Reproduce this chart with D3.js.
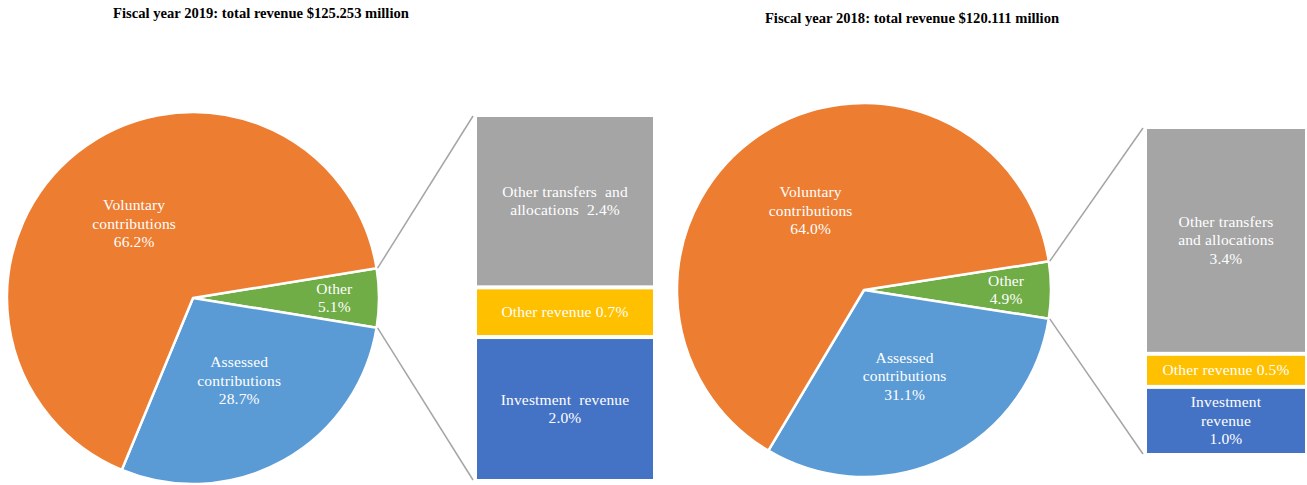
<!DOCTYPE html>
<html>
<head>
<meta charset="utf-8">
<script src="https://cdn.jsdelivr.net/npm/d3@7"></script>
<style>
  html, body { margin: 0; padding: 0; background: #fff; }
  svg { display: block; }
</style>
</head>
<body>
<svg id="chart" width="1307" height="485"></svg>
<script>
// ---------- data ----------
const titles = [
  "Fiscal year 2019: total revenue $125.253 million",
  "Fiscal year 2018: total revenue $120.111 million"
];
const pieCategories = ["Voluntary contributions", "Assessed contributions", "Other"];
const pieValues2019 = [66.2, 28.7, 5.1];
const pieValues2018 = [64.0, 31.1, 4.9];
const pieLabels2019 = [["Voluntary", "contributions", "66.2%"], ["Assessed", "contributions", "28.7%"], ["Other", "5.1%"]];
const pieLabels2018 = [["Voluntary", "contributions", "64.0%"], ["Assessed", "contributions", "31.1%"], ["Other", "4.9%"]];

const barCategories = ["Other transfers and allocations", "Other revenue", "Investment revenue"];
const barValues2019 = [2.4, 0.7, 2.0];
const barValues2018 = [3.4, 0.5, 1.0];
const barLabels2019 = [["Other transfers  and", "allocations  2.4%"], ["Other revenue 0.7%"], ["Investment  revenue", "2.0%"]];
const barLabels2018 = [["Other transfers", "and allocations", "3.4%"], ["Other revenue 0.5%"], ["Investment", "revenue", "1.0%"]];

// ---------- style ----------
const pieColors = ["#ED7D31", "#5B9BD5", "#70AD47"];
const barColors = ["#A5A5A5", "#FFC000", "#4472C4"];
const FONT = "'Liberation Serif', 'Times New Roman', serif";

const layouts = [
  { cx: 193, cy: 298, R: 186, barX: 477, barW: 176, barTop: 117, barBottom: 479, titleX: 261, titleY: 18 },
  { cx: 864, cy: 290, R: 187, barX: 1147, barW: 158, barTop: 129, barBottom: 453, titleX: 912, titleY: 23 }
];

const charts = [
  { title: titles[0], pie: pieValues2019, pieLabels: pieLabels2019, bar: barValues2019, barLabels: barLabels2019 },
  { title: titles[1], pie: pieValues2018, pieLabels: pieLabels2018, bar: barValues2018, barLabels: barLabels2018 }
];

const svg = d3.select("#chart");

function multiline(sel, lines, x, cy, lh) {
  const n = lines.length;
  const t = sel.append("text")
    .attr("text-anchor", "middle")
    .attr("font-family", FONT)
    .attr("font-size", 15.5)
    .attr("letter-spacing", 0.15)
    .attr("fill", "#fff");
  lines.forEach((ln, i) => {
    t.append("tspan")
      .attr("x", x)
      .attr("y", cy + (i - (n - 1) / 2) * lh + 5)
      .style("white-space", "pre")
      .text(ln);
  });
}

charts.forEach((c, ci) => {
  const L = layouts[ci];
  const g = svg.append("g");

  // title
  g.append("text")
    .attr("x", L.titleX).attr("y", L.titleY)
    .attr("text-anchor", "middle")
    .attr("font-family", FONT)
    .attr("font-weight", "bold")
    .attr("font-size", 14.6)
    .attr("fill", "#000")
    .text(c.title);

  // pie: order Other, Assessed, Voluntary clockwise, Other centred on the right
  const order = [2, 1, 0];
  const otherFrac = c.pie[2] / d3.sum(c.pie);
  const start = Math.PI / 2 - otherFrac * Math.PI;
  const pie = d3.pie().sort(null).value(d => d.v)
    .startAngle(start).endAngle(start + 2 * Math.PI);
  const arcsData = pie(order.map(i => ({ i, v: c.pie[i] })));
  const arc = d3.arc().innerRadius(0).outerRadius(L.R);

  const pg = g.append("g").attr("transform", `translate(${L.cx},${L.cy})`);
  pg.selectAll("path").data(arcsData).join("path")
    .attr("d", arc)
    .attr("fill", d => pieColors[d.data.i])
    .attr("stroke", "#fff")
    .attr("stroke-width", 2.5)
    .attr("stroke-linejoin", "round");

  arcsData.forEach(d => {
    const mid = (d.startAngle + d.endAngle) / 2;
    const small = (d.endAngle - d.startAngle) < 0.6;
    const r = L.R * (small ? 0.76 : 0.51);
    const x = Math.sin(mid) * r;
    const y = -Math.cos(mid) * r;
    multiline(pg, c.pieLabels[d.data.i], x, y, 18.5);
  });

  // connector lines from Other slice edges to bar
  const other = arcsData[0];
  const p1 = [L.cx + Math.sin(other.startAngle) * (L.R + 1), L.cy - Math.cos(other.startAngle) * (L.R + 1)];
  const p2 = [L.cx + Math.sin(other.endAngle) * (L.R + 1), L.cy - Math.cos(other.endAngle) * (L.R + 1)];
  g.append("line").attr("x1", p1[0]).attr("y1", p1[1]).attr("x2", L.barX - 4).attr("y2", L.barTop - 1)
    .attr("stroke", "#A5A5A5").attr("stroke-width", 1.5);
  g.append("line").attr("x1", p2[0]).attr("y1", p2[1]).attr("x2", L.barX - 4).attr("y2", L.barBottom + 1)
    .attr("stroke", "#A5A5A5").attr("stroke-width", 1.5);

  // bar of pie
  const total = d3.sum(c.bar);
  const y = d3.scaleLinear().domain([0, total]).range([L.barTop, L.barBottom]);
  let cum = 0;
  const gap = 2;
  c.bar.forEach((v, i) => {
    const y0 = y(cum) + (i === 0 ? 0 : gap);
    const y1 = y(cum + v) - (i === c.bar.length - 1 ? 0 : gap);
    cum += v;
    g.append("rect")
      .attr("x", L.barX).attr("y", y0)
      .attr("width", L.barW).attr("height", y1 - y0)
      .attr("fill", barColors[i]);
    multiline(g, c.barLabels[i], L.barX + L.barW / 2, (y0 + y1) / 2, 18.5);
  });
});
</script>
</body>
</html>
